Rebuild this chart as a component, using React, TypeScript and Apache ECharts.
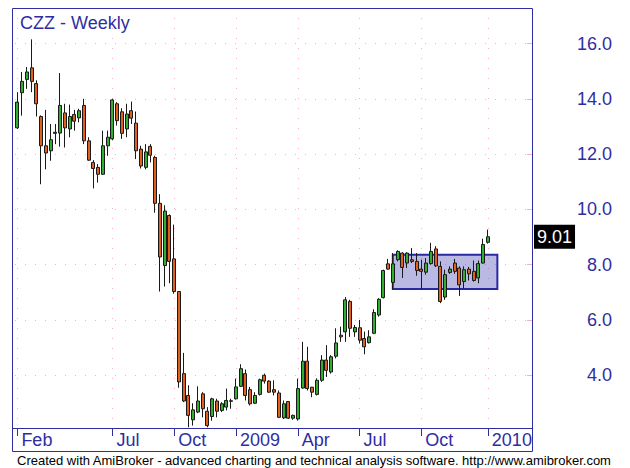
import React, { useEffect, useRef } from "react";
import * as echarts from "echarts";

// Weekly OHLC for CZZ, Feb 2008 – Jan 2010
const opens = [
  12.95, 14.22, 14.7, 15.12, 14.55, 13.36, 12.3, 12.12, 12.75, 12.76,
  13.49, 12.91, 13.43, 13.31, 13.76, 12.48, 11.7, 11.52, 11.27, 12.3,
  12.55, 13.82, 13.53, 12.91, 13.57, 13.12, 12.18, 11.52, 12.28, 11.88,
  10.22, 7.97, 9.78, 8.21, 7.03, 4.06, 3.27, 2.39, 2.67, 3.33,
  2.7, 2.51, 3.07, 2.73, 2.85, 3.06, 3.15, 3.6, 4.06, 3.48,
  2.99, 3.31, 4.0, 3.79, 3.48, 3.36, 2.46, 3.05, 2.45, 2.42,
  3.54, 4.51, 3.57, 3.31, 3.82, 4.55, 4.12, 4.69, 5.45, 5.57,
  6.67, 5.57, 5.72, 5.33, 5.18, 5.52, 6.18, 6.81, 8.03, 7.36,
  8.18, 8.42, 8.06, 8.18, 8.12, 7.84, 7.73, 8.04, 8.57, 7.94,
  6.83, 7.72, 8.06, 7.88, 7.39, 7.84, 7.76, 7.52, 8.06, 8.81,
];
const highs = [
  14.24, 14.97, 15.15, 16.15, 14.67, 13.4, 13.6, 13.09, 13.09, 14.93,
  13.82, 13.79, 13.6, 13.64, 14.0, 12.61, 11.78, 11.64, 12.85, 12.85,
  14.0, 13.88, 13.66, 13.82, 13.9, 13.54, 12.3, 12.36, 12.36, 11.94,
  10.55, 10.15, 9.82, 9.45, 7.05, 4.81, 3.64, 2.99, 3.6, 3.39,
  2.85, 3.19, 3.15, 3.03, 3.52, 3.15, 3.88, 4.4, 4.21, 3.58,
  3.39, 3.88, 4.06, 3.82, 3.82, 3.45, 3.09, 3.06, 2.58, 3.88,
  5.21, 5.03, 3.58, 3.89, 4.73, 5.09, 4.73, 5.7, 5.76, 6.83,
  6.73, 5.82, 6.0, 5.58, 5.63, 6.39, 6.79, 7.82, 8.21, 8.42,
  8.52, 8.45, 8.45, 8.6, 8.42, 8.18, 8.24, 8.79, 8.67, 8.12,
  7.82, 7.94, 8.21, 7.94, 7.94, 7.92, 8.15, 8.15, 8.94, 9.27,
];
const lows = [
  12.91, 13.39, 14.36, 14.24, 13.36, 10.91, 11.45, 11.76, 12.36, 12.27,
  12.24, 12.61, 12.85, 13.15, 12.36, 11.76, 10.76, 10.97, 11.25, 11.94,
  12.5, 13.03, 12.55, 12.61, 13.09, 11.82, 11.48, 11.45, 11.7, 9.88,
  7.03, 7.21, 7.33, 6.95, 3.55, 3.03, 2.12, 2.18, 2.63, 2.48,
  2.12, 2.36, 2.48, 2.67, 2.73, 2.79, 3.12, 3.58, 3.09, 2.91,
  2.97, 3.27, 3.7, 3.36, 3.27, 2.46, 2.42, 2.42, 2.39, 2.36,
  3.52, 3.45, 3.21, 3.27, 3.76, 3.94, 4.06, 4.61, 5.21, 5.21,
  5.39, 5.39, 5.15, 4.76, 5.15, 5.49, 6.12, 6.78, 7.82, 7.09,
  8.12, 7.52, 7.88, 8.06, 7.6, 7.12, 7.64, 8.0, 7.92, 6.61,
  6.73, 7.67, 7.67, 6.87, 7.15, 7.43, 7.39, 7.33, 8.04, 8.76,
];
const closes = [
  13.88, 14.63, 14.97, 14.63, 13.82, 12.3, 12.04, 12.52, 12.79, 13.76,
  12.95, 13.36, 13.19, 13.57, 12.48, 11.78, 11.48, 11.27, 12.3, 12.61,
  13.96, 13.21, 12.75, 13.45, 13.3, 12.12, 11.57, 12.08, 11.96, 10.22,
  8.28, 9.94, 8.12, 7.03, 3.76, 3.07, 2.55, 2.75, 3.07, 2.79,
  2.18, 3.15, 2.7, 2.97, 3.09, 3.08, 3.58, 4.24, 3.27, 2.97,
  3.27, 3.84, 3.79, 3.39, 3.39, 2.48, 2.97, 2.45, 2.55, 3.52,
  4.51, 3.52, 3.39, 3.82, 4.55, 4.18, 4.67, 5.17, 5.39, 6.73,
  5.7, 5.73, 5.27, 5.03, 5.39, 6.27, 6.75, 7.79, 7.84, 8.03,
  8.48, 7.9, 8.42, 8.12, 7.79, 7.76, 8.06, 8.48, 7.96, 6.67,
  7.64, 7.84, 7.76, 7.27, 7.82, 7.67, 7.43, 8.04, 8.73, 9.01,
];

// X axis tick positions (bar index) and their labels
const tickIdx = [0, 20, 33, 46, 59, 72, 85, 99];
const tickLbl = ["Feb", "Jul", "Oct", "2009", "Apr", "Jul", "Oct", "2010"];
// Y axis tick values
const yTicks = [4, 6, 8, 10, 12, 14, 16];
// Consolidation box (bar index range, price range)
const boxX = [79, 101];
const boxY = [8.36, 7.12];

const TOTAL_SLOTS = 109;
const START = Date.UTC(2008, 1, 8);
const categories = Array.from({ length: TOTAL_SLOTS }, (_, i) =>
  new Date(START + i * 7 * 86400000).toISOString().slice(0, 10)
);

const FONT = "Liberation Sans, Arial, sans-serif";
const BLUE = "#2e2ea2";
const PINK = "#f2b4c4";

export default function App() {
  const ref = useRef<HTMLDivElement>(null);
  useEffect(() => {
    if (!ref.current) return;
    const chart = echarts.init(ref.current, null, { renderer: "svg" });
    const isTick = (i: number) => tickIdx.indexOf(i) >= 0;
    const lastClose = closes[closes.length - 1];
    chart.setOption({
      animation: false,
      backgroundColor: "#ffffff",
      title: {
        text: "CZZ - Weekly",
        left: 15,
        top: 9,
        textStyle: { color: BLUE, fontFamily: FONT, fontSize: 18, fontWeight: "normal" },
      },
      grid: {
        left: 15,
        right: 97,
        top: 8,
        bottom: 40,
        containLabel: false,
        outerBoundsMode: "none",
        show: false,
      },
      xAxis: {
        type: "category",
        data: categories,
        boundaryGap: true,
        axisLine: { show: false },
        axisTick: {
          show: true,
          alignWithLabel: true,
          interval: (i: number) => isTick(i),
          length: 8,
          lineStyle: { color: BLUE, width: 1 },
        },
        axisLabel: {
          interval: (i: number) => isTick(i),
          formatter: (_v: string, i: number) => tickLbl[tickIdx.indexOf(i)] ?? "",
          align: "left",
          verticalAlign: "top",
          margin: 3,
          padding: [0, 0, 0, 4],
          color: BLUE,
          fontFamily: FONT,
          fontSize: 18,
        },
        splitLine: {
          show: true,
          alignWithLabel: true,
          interval: (i: number) => isTick(i),
          lineStyle: { color: PINK, type: [1, 9], width: 1 },
        },
      },
      yAxis: {
        type: "value",
        position: "right",
        min: 2.094,
        max: 17.284,
        axisLine: { show: false },
        axisTick: {
          show: true,
          inside: true,
          length: 6,
          customValues: yTicks,
          lineStyle: { color: PINK },
        },
        axisLabel: {
          customValues: yTicks,
          formatter: (v: number) => v.toFixed(1),
          align: "right",
          margin: 79,
          padding: [6, 0, 0, 0],
          color: BLUE,
          fontFamily: FONT,
          fontSize: 18,
        },
        splitLine: { show: true, lineStyle: { color: PINK, type: [1, 9], width: 1 } },
      },
      series: [
        {
          type: "line",
          data: [],
          z: 1,
          silent: true,
          markArea: {
            silent: true,
            itemStyle: {
              color: "rgba(60,60,180,0.36)",
              borderColor: "#2a2aa0",
              borderWidth: 2,
            },
            data: [[{ xAxis: boxX[0], yAxis: boxY[0] }, { xAxis: boxX[1], yAxis: boxY[1] }]],
          },
        },
        {
          type: "candlestick",
          z: 3,
          barWidth: 3.5,
          clip: false,
          data: opens.map((o, i) => [o, closes[i], lows[i], highs[i]]),
          itemStyle: {
            color: "#2fae2f",
            color0: "#e0601c",
            borderColor: "#1a1a1a",
            borderColor0: "#1a1a1a",
            borderWidth: 1,
          },
          markLine: {
            silent: true,
            symbol: "none",
            lineStyle: { color: "rgba(0,0,0,0)", width: 1, type: "solid" },
            label: {
              show: true,
              position: "end",
              distance: 1,
              formatter: lastClose.toFixed(2),
              backgroundColor: "#000000",
              color: "#ffffff",
              padding: [3, 3, 3, 3],
              fontFamily: FONT,
              fontSize: 18,
            },
            emphasis: { disabled: true },
            data: [{ yAxis: lastClose }],
          },
        },
      ],
      graphic: [
        {
          type: "rect",
          z: 10,
          silent: true,
          shape: { x: 12.5, y: 8.5, width: 520, height: 443 },
          style: { fill: "none", stroke: BLUE, lineWidth: 1 },
        },
        {
          type: "line",
          z: 10,
          silent: true,
          shape: { x1: 12.5, y1: 428.5, x2: 532.5, y2: 428.5 },
          style: { stroke: BLUE, lineWidth: 1 },
        },
        {
          type: "text",
          left: 17,
          top: 454,
          silent: true,
          style: {
            text: "Created with AmiBroker - advanced charting and technical analysis software. http://www.amibroker.com",
            fill: "#000",
            fontFamily: FONT,
            fontSize: 13,
          },
        },
      ],
    });
    return () => chart.dispose();
  }, []);
  return (
    <div
      ref={ref}
      style={{ position: "fixed", left: 0, top: 0, width: 630, height: 468 }}
    />
  );
}
